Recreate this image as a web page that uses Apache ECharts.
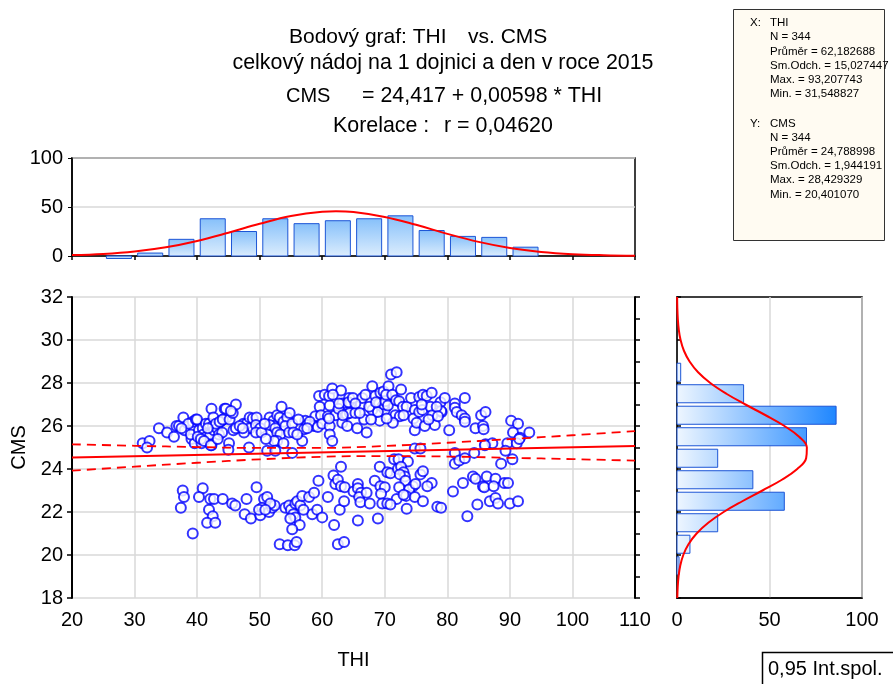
<!DOCTYPE html>
<html><head><meta charset="utf-8">
<script src="https://cdn.jsdelivr.net/npm/echarts@6/dist/echarts.min.js"></script>
<style>html,body{margin:0;padding:0;background:#fff}#c{width:893px;height:684px}</style>
</head><body><div id="c"></div>
<script>
// ---------- DATA ----------
const titleLines = ["Bodový graf: THI", "vs. CMS", "celkový nádoj na 1 dojnici a den v roce 2015", "CMS", "= 24,417 + 0,00598 * THI", "Korelace :", "r = 0,04620"];
const statsX = ["X:", "THI", "N = 344", "Průměr = 62,182688", "Sm.Odch. = 15,027447", "Max. = 93,207743", "Min. = 31,548827"];
const statsY = ["Y:", "CMS", "N = 344", "Průměr = 24,788998", "Sm.Odch. = 1,944191", "Max. = 28,429329", "Min. = 20,401070"];
const legendText = "0,95 Int.spol.";

// top histogram of THI (bin start, bin end, count)
const thiBinStart = [25, 30, 35, 40, 45, 50, 55, 60, 65, 70, 75, 80, 85, 90];
const thiBinEnd   = [30, 35, 40, 45, 50, 55, 60, 65, 70, 75, 80, 85, 90, 95];
const thiCounts   = [0, 3, 17, 38, 25, 38, 33, 36, 38, 41, 26, 20, 19, 9];
// fitted normal curve on THI histogram
const thiCurveX = [20, 25, 30, 35, 40, 45, 50, 55, 60, 62.2, 65, 70, 75, 80, 85, 90, 95, 100, 105, 110];
const thiCurveY = [0.9, 2.1, 4.6, 8.9, 15.4, 23.8, 32.9, 40.8, 45.2, 45.7, 44.9, 39.9, 31.8, 22.6, 14.4, 8.2, 4.2, 1.9, 0.8, 0.3];

// right histogram of CMS
const cmsBinStart = [19, 20, 21, 22, 23, 24, 25, 26, 27, 28];
const cmsBinEnd   = [20, 21, 22, 23, 24, 25, 26, 27, 28, 29];
const cmsCounts   = [0, 7, 22, 58, 41, 22, 70, 86, 36, 2];
const cmsCurveY = [18, 18.5, 19, 19.5, 20, 20.5, 21, 21.5, 22, 22.5, 23, 23.5, 24, 24.5, 25, 25.5, 26, 26.5, 27, 27.5, 28, 28.5, 29, 29.5, 30, 30.5, 31, 31.5, 32];
const cmsCurveX = [0.16, 0.38, 0.84, 1.74, 3.4, 6.2, 10.6, 16.9, 25.2, 35.3, 46.2, 56.7, 65.0, 69.8, 70.2, 66.0, 58.1, 47.9, 37.0, 26.7, 18.0, 11.4, 6.8, 3.75, 1.94, 0.94, 0.43, 0.18, 0.07];

// regression line and 0.95 confidence band
const regX = [20, 110];
const regY = [24.54, 25.07];
const bandX = [20, 30, 40, 50, 60, 70, 80, 90, 100, 110];
const bandUpper = [25.15, 25.08, 25.02, 24.98, 24.98, 25.07, 25.22, 25.39, 25.57, 25.76];
const bandLower = [23.92, 24.11, 24.29, 24.45, 24.57, 24.60, 24.58, 24.52, 24.46, 24.39];

// scatter points [THI, CMS]
const upperPoints = [
[31.3,25.2],[32.4,25.3],[32.0,25.0],[33.9,25.9],
[35.2,25.7],[36.3,25.5],[36.7,26.0],[37.1,26.0],[37.8,26.4],[38.0,25.8],[39.3,26.2],[39.1,25.4],[39.6,25.2],[39.0,25.6],[38.6,26.1],[37.5,25.9],[39.8,26.3],
[40.0,26.3],[40.3,25.8],[40.9,25.9],[41.4,26.1],[41.9,26.1],[42.5,26.0],[41.0,25.6],[41.5,25.5],[42.1,25.6],[42.7,25.8],[43.2,25.9],[43.7,26.2],[44.2,26.3],[44.7,26.4],[42.3,26.8],[44.4,26.8],[42.6,26.4],[42.3,25.1],[40.7,25.2],[40.1,25.5],[40.6,25.4],[41.1,25.3],[42.2,25.1],[43.0,26.1],[43.6,26.2],[44.1,26.3],[44.6,26.8],[43.5,25.6],[44.0,25.7],[41.7,25.9],[43.3,25.4],
[45.2,26.3],[45.7,26.6],[46.2,27.0],[45.1,25.2],[47.4,26.1],[47.9,26.1],[48.4,25.9],[47.5,25.7],[45.8,25.8],[46.2,25.9],[48.3,25.0],[45.4,26.7],[45.0,24.9],[46.8,26.0],[47.3,25.9],[48.4,26.4],[48.9,26.35],
[49.5,26.4],[49.4,26.05],[50.1,25.9],[49.4,25.7],[50.3,25.7],[51.6,26.4],[52.2,26.25],[52.8,26.5],[53.2,26.4],[52.2,26.0],[51.6,26.05],[52.5,25.9],[53.8,26.2],[54.4,26.4],[54.8,26.6],[54.1,26.0],[52.8,25.7],[53.3,25.6],[52.8,25.3],[52.3,25.3],[53.8,25.2],[54.7,25.7],[51.2,24.85],[52.5,24.85],[50.8,26.1],[53.5,26.9],[51.0,25.4],
[55.2,26.1],[55.4,25.7],[55.2,24.75],[56.8,25.3],[57.3,26.25],[57.6,26.05],[57.1,25.85],[58.9,26.45],[58.7,26.0],[59.5,27.4],[59.6,26.9],[56.2,26.3],[58.0,26.2],[57.6,25.9],[59.3,25.95],[59.8,26.5],[56.0,25.6],
[60.0,26.1],[61.2,26.0],[60.9,26.45],[62.1,26.5],[63.2,26.15],[63.9,26.55],[60.4,27.45],[61.1,27.4],[61.6,27.75],[63.0,27.65],[61.2,26.95],[63.2,27.05],[64.3,27.3],[64.5,27.05],[61.2,25.6],[61.6,25.3],[62.6,26.8],[64.0,26.0],[61.7,27.45],[62.7,27.05],[64.2,27.1],[64.4,26.6],[61.1,26.35],[63.3,26.5],[64.9,27.3],
[65.6,25.9],[67.1,25.7],[66.7,26.3],[66.2,27.0],[66.4,27.3],[66.9,27.45],[68.0,27.85],[68.5,27.4],[69.3,27.55],[69.1,27.05],[69.6,26.9],[70.0,26.75],[69.2,26.25],[68.0,26.75],[68.9,26.65],[69.9,27.0],[67.5,26.9],[65.3,26.6],[65.3,27.05],[66.0,26.6],[67.8,26.3],[68.6,27.1],[69.8,27.6],
[70.1,27.15],[71.0,28.4],[71.9,28.5],[70.6,27.85],[70.2,27.45],[71.2,27.45],[70.5,26.95],[71.8,27.2],[72.6,27.7],[72.3,27.15],[72.9,26.9],[73.5,26.9],[74.2,27.3],[74.8,26.75],[71.7,26.5],[72.4,26.45],[73.0,26.5],[71.3,26.15],[70.3,26.35],[74.6,26.35],[74.8,25.8],[74.8,24.95],
[75.5,27.35],[76.1,27.45],[76.7,27.4],[77.5,27.55],[75.5,26.65],[76.0,26.75],[77.3,26.9],[78.9,27.1],[79.1,26.65],[75.1,26.15],[77.6,26.5],[78.0,26.05],[75.7,24.95],[79.0,26.7],[76.4,26.0],[77.0,26.3],[78.3,26.9],[79.6,27.3],[75.9,27.0],[78.5,26.45],
[81.2,27.05],[81.2,26.85],[81.5,26.65],[82.8,27.3],[82.3,26.5],[82.8,26.35],[82.8,26.2],[80.3,25.8],[84.5,25.9],[81.2,24.75],[84.3,24.75],
[85.4,26.5],[86.1,26.65],[85.7,26.0],[85.8,25.85],[86.1,25.15],[87.2,25.2],[89.6,25.2],[89.3,24.85],[86.0,25.1],
[90.2,26.25],[91.3,26.1],[90.5,25.7],[91.6,25.45],[93.1,25.7],[91.1,25.2],[91.5,25.4]
];
const lowerPoints = [
[37.7,23.0],[37.9,22.7],[37.4,22.2],[40.9,23.1],[40.3,22.7],[42.1,22.6],[42.7,22.6],[44.1,22.6],[41.9,22.1],[42.5,21.8],[41.6,21.5],[42.9,21.5],[39.3,21.0],[45.6,22.4],[46.1,22.3],[47.9,22.6],[47.6,21.9],[48.6,21.7],
[49.5,23.15],[50.1,21.85],[50.7,22.6],[51.2,22.7],[50.4,22.2],[51.5,22.0],[49.9,22.1],[52.0,22.2],[52.4,22.3],[51.7,22.4],[50.9,22.1],[53.2,20.5],[54.5,20.45],[55.6,20.45],[55.9,20.6],[54.1,22.2],[54.7,22.3],[55.0,22.1],[55.7,22.4],[56.0,22.5],[56.5,22.3],[55.4,21.9],[55.7,21.75],[54.9,21.7],[56.4,21.4],[55.2,21.2],[56.8,22.75],[57.9,22.7],[58.7,22.9],[58.4,21.9],[59.2,22.1],[60.0,21.75],[59.4,23.45],[57.0,22.1],
[60.9,22.7],[61.8,23.7],[62.1,23.3],[62.5,23.5],[63.0,24.1],[62.8,22.1],[61.9,21.4],[63.0,23.2],[63.5,22.5],[63.6,23.15],[62.5,20.5],[63.5,20.6],[65.0,22.95],[65.7,23.3],[65.7,23.1],[66.2,22.9],[65.9,22.7],[66.1,22.45],[65.7,21.6],[67.1,22.9],[67.6,22.4],[68.4,23.45],[69.3,23.2],[69.2,24.1],[70.0,23.15],[69.4,22.85],[69.6,22.4],[68.9,21.7],[70.4,23.85],[70.4,22.4],
[71.5,24.45],[72.2,24.45],[73.7,24.35],[70.9,23.8],[72.1,24.0],[72.6,24.1],[73.0,23.85],[73.2,23.65],[72.4,23.75],[73.3,23.45],[75.7,23.75],[76.1,23.9],[77.5,23.35],[74.5,23.2],[73.9,23.05],[72.3,23.15],[73.4,22.75],[71.9,22.6],[70.9,22.35],[74.8,22.7],[76.1,22.5],[73.5,22.15],[78.4,22.25],[74.9,23.3],[73.0,22.8],[76.8,23.2],[79.0,22.2],
[81.2,24.25],[81.9,24.4],[82.8,24.5],[80.9,22.95],[82.5,23.35],[84.1,23.65],[84.5,23.55],[84.8,22.35],[83.2,21.8],
[85.7,23.2],[85.9,23.15],[86.3,23.65],[87.7,23.55],[87.4,23.2],[89.1,23.35],[89.7,23.35],[86.8,22.5],[87.7,22.65],[88.1,22.4],[88.6,24.25],
[90.0,22.4],[91.3,22.5],[90.4,24.45]
];

// ---------- CHART ----------
const FONT = "'Liberation Sans', Arial, sans-serif";
const chart = echarts.init(document.getElementById('c'), null, {renderer: 'canvas'});

const topHistData = thiBinStart.map((s, i) => [s, thiBinEnd[i], thiCounts[i]]);
const rightHistData = cmsBinStart.map((s, i) => [s, cmsBinEnd[i], cmsCounts[i]]);
const scatterData = upperPoints.concat(lowerPoints);

const gridLine = {show: true, lineStyle: {color: '#d8d8d8', width: 1.5}};
const axisTxt = {color: '#000', fontSize: 20, fontFamily: FONT};

function t(x, y, s, size, align) {
  return {type: 'text', x: x, y: y, style: {text: s, fontSize: size, fontFamily: FONT, fill: '#000', textAlign: align || 'left', textVerticalAlign: 'middle'}};
}

const graphics = [];
// titles
graphics.push(t(289, 37, titleLines[0], 21));
graphics.push(t(468, 37, titleLines[1], 21));
graphics.push(t(443, 63, titleLines[2], 21.4, 'center'));
graphics.push(t(286, 96, titleLines[3], 20));
graphics.push(t(362, 96, titleLines[4], 21.4));
graphics.push(t(333, 126, titleLines[5], 21.4));
graphics.push(t(444, 126, titleLines[6], 21.4));
// stats box
graphics.push({type: 'rect', shape: {x: 733.5, y: 9.5, width: 151, height: 231}, style: {fill: '#fffbf2', stroke: '#333', lineWidth: 1}});
statsX.forEach((s, i) => {
  graphics.push(t(i === 0 ? 750 : 770, 23 + 14.2 * Math.max(0, i - 1), s, 11.5));
});
statsY.forEach((s, i) => {
  graphics.push(t(i === 0 ? 750 : 770, 123.5 + 14.2 * Math.max(0, i - 1), s, 11.5));
});
// legend box
graphics.push({type: 'rect', shape: {x: 762.5, y: 652.5, width: 150, height: 40}, style: {fill: '#fff', stroke: '#000', lineWidth: 1.5}});
graphics.push(t(768, 669, legendText, 20));

const option = {
  animation: false,
  backgroundColor: '#fff',
  grid: [
    {left: 72, top: 158, width: 563, height: 98, show: true, borderColor: '#000', borderWidth: 1.5, backgroundColor: 'transparent'},
    {left: 72, top: 297, width: 563, height: 301, show: false},
    {left: 677, top: 297, width: 185, height: 301, show: true, borderColor: '#000', borderWidth: 1.5, backgroundColor: 'transparent'}
  ],
  xAxis: [
    {gridIndex: 0, type: 'value', min: 20, max: 110, interval: 10, position: 'top',
     axisLine: {show: true, lineStyle: {color: '#000', width: 1.5}}, axisTick: {show: true, inside: true, length: 4, lineStyle: {color: '#000', width: 1.5}},
     axisLabel: {show: false}, splitLine: {show: false}},
    {gridIndex: 1, type: 'value', min: 20, max: 110, interval: 10,
     name: 'THI', nameLocation: 'middle', nameGap: 52, nameTextStyle: axisTxt,
     axisLine: {show: false}, axisTick: {show: false},
     axisLabel: Object.assign({margin: 12}, axisTxt), splitLine: gridLine},
    {gridIndex: 2, type: 'value', min: 0, max: 100, interval: 50,
     axisLine: {show: true, lineStyle: {color: '#000', width: 1.5}}, axisTick: {show: false},
     axisLabel: Object.assign({margin: 12}, axisTxt), splitLine: gridLine}
  ],
  yAxis: [
    {gridIndex: 0, type: 'value', min: 0, max: 100, interval: 50,
     axisLine: {show: true, lineStyle: {color: '#000', width: 1.5}}, axisTick: {show: true, length: 4, lineStyle: {color: '#000'}},
     axisLabel: Object.assign({margin: 9}, axisTxt), splitLine: gridLine},
    {gridIndex: 1, type: 'value', min: 18, max: 32, interval: 2,
     name: 'CMS', nameLocation: 'middle', nameGap: 42, nameRotate: 90, nameTextStyle: axisTxt,
     axisLine: {show: true, lineStyle: {color: '#000', width: 2}}, axisTick: {show: true, length: 5, lineStyle: {color: '#000', width: 1.5}},
     axisLabel: Object.assign({margin: 9}, axisTxt), splitLine: gridLine},
    {gridIndex: 1, type: 'value', min: 18, max: 32, interval: 1, position: 'right',
     axisLine: {show: true, lineStyle: {color: '#000', width: 2}}, axisTick: {show: true, length: 5, lineStyle: {color: '#000', width: 1.5}},
     axisLabel: {show: false}, splitLine: {show: false}},
    {gridIndex: 2, type: 'value', min: 18, max: 32, interval: 2,
     axisLine: {show: true, lineStyle: {color: '#000', width: 1.5}}, axisTick: {show: true, inside: true, length: 4, lineStyle: {color: '#000', width: 1.5}},
     axisLabel: {show: false}, splitLine: {show: false}}
  ],
  graphic: {elements: graphics},
  series: [
    {type: 'custom', xAxisIndex: 0, yAxisIndex: 0, data: topHistData, encode: {x: [0, 1], y: 2}, z: 2,
     renderItem: function (params, api) {
       const s = api.value(0), e = api.value(1), c = api.value(2);
       const inset = (e - s) * 0.1;
       const p0 = api.coord([s + inset, c]);
       const p1 = api.coord([e - inset, 0]);
       let y = p0[1], h = p1[1] - p0[1];
       if (h < 1) { y = p1[1]; h = 2.5; }
       return {type: 'rect', shape: {x: p0[0], y: y, width: p1[0] - p0[0], height: h},
         style: {fill: new echarts.graphic.LinearGradient(0, 0, 0, 1, [{offset: 0, color: '#86c0fa'}, {offset: 1, color: '#dcedfd'}]), stroke: '#1c55d6', lineWidth: 1}};
     }},
    {type: 'line', xAxisIndex: 0, yAxisIndex: 0, data: thiCurveX.map((x, i) => [x, thiCurveY[i]]), smooth: 0.4, showSymbol: false, z: 3,
     lineStyle: {color: '#ff0000', width: 2}},
    {type: 'scatter', xAxisIndex: 1, yAxisIndex: 1, data: scatterData, symbol: 'emptyCircle', symbolSize: 10, z: 3,
     itemStyle: {color: '#0000ff', borderColor: '#0000ff', borderWidth: 2}},
    {type: 'line', xAxisIndex: 1, yAxisIndex: 1, data: regX.map((x, i) => [x, regY[i]]), showSymbol: false, z: 4,
     lineStyle: {color: '#ff0000', width: 2}},
    {type: 'line', xAxisIndex: 1, yAxisIndex: 1, data: bandX.map((x, i) => [x, bandUpper[i]]), smooth: 0.4, showSymbol: false, z: 4,
     lineStyle: {color: '#ff0000', width: 1.8, type: [9, 6]}},
    {type: 'line', xAxisIndex: 1, yAxisIndex: 1, data: bandX.map((x, i) => [x, bandLower[i]]), smooth: 0.4, showSymbol: false, z: 4,
     lineStyle: {color: '#ff0000', width: 1.8, type: [9, 6]}},
    {type: 'custom', xAxisIndex: 2, yAxisIndex: 3, data: rightHistData, encode: {x: 2, y: [0, 1]}, z: 2,
     renderItem: function (params, api) {
       const lo = api.value(0), hi = api.value(1), c = api.value(2);
       const inset = (hi - lo) * 0.08;
       const p0 = api.coord([0, hi - inset]);
       const p1 = api.coord([c, lo + inset]);
       let w = p1[0] - p0[0];
       if (w < 1) w = 2;
       const g0 = api.coord([0, lo]), g1 = api.coord([88, lo]);
       return {type: 'rect', shape: {x: p0[0], y: p0[1], width: w, height: p1[1] - p0[1]},
         style: {fill: {type: 'linear', x: g0[0], y: 0, x2: g1[0], y2: 0, global: true,
           colorStops: [{offset: 0, color: '#eef6ff'}, {offset: 1, color: '#1a84ff'}]}, stroke: '#1c55d6', lineWidth: 1}};
     }},
    {type: 'line', xAxisIndex: 2, yAxisIndex: 3, data: cmsCurveX.map((x, i) => [x, cmsCurveY[i]]), smooth: 0.4, showSymbol: false, z: 3,
     lineStyle: {color: '#ff0000', width: 2}}
  ]
};
chart.setOption(option);
</script></body></html>
